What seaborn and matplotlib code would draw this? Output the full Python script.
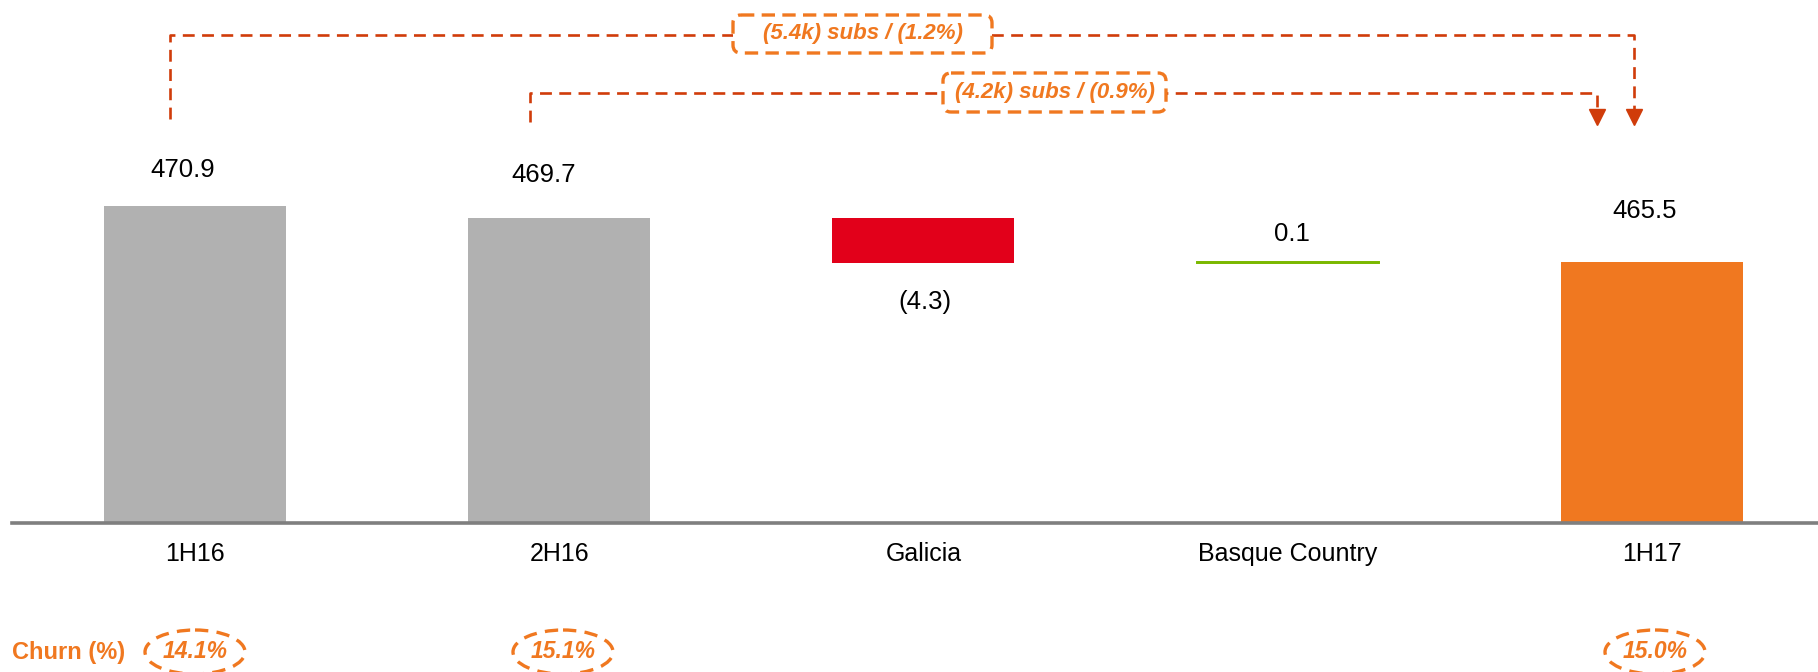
import pandas as pd
import seaborn as sns
import matplotlib.pyplot as plt
from matplotlib.patches import FancyBboxPatch, Ellipse
from matplotlib.lines import Line2D
from matplotlib.transforms import Affine2D

# data
categories = ["1H16", "2H16", "Galicia", "Basque Country", "1H17"]
values = [470.9, 469.7, -4.3, 0.1, 465.5]
kinds = ["total", "total", "delta", "delta", "total"]
value_labels = ["470.9", "469.7", "(4.3)", "0.1", "465.5"]
churn_labels = ["14.1%", "15.1%", "", "", "15.0%"]
bridge_labels = ["(5.4k) subs / (1.2%)", "(4.2k) subs / (0.9%)"]

GRAY = "#B1B1B1"
RED = "#E2001A"
GREEN = "#7AB800"
ORANGE = "#F07820"
BRACKET = "#D03C0A"

# waterfall bottoms / heights
bottoms, heights, colors = [], [], []
running = 0
for v, k in zip(values, kinds):
    if k == "total":
        bottoms.append(0)
        heights.append(v)
        running = v
        colors.append(GRAY)
    else:
        bottoms.append(running + min(v, 0))
        heights.append(abs(v))
        running += v
        colors.append(RED if v < 0 else GREEN)
colors[-1] = ORANGE

df = pd.DataFrame({"category": categories, "height": heights, "bottom": bottoms})

sns.set_style("white")
plt.rcParams["font.family"] = ["Liberation Sans", "DejaVu Sans"]

W, H = 1818, 672
fig = plt.figure(figsize=(W / 100, H / 100), dpi=100)
ax = fig.add_axes([12 / W, 149 / H, 1806 / W, 523 / H])

sns.barplot(data=df, x="category", y="height", bottom=df["bottom"].values,
            color=GRAY, saturation=1, width=0.5, errorbar=None, ax=ax)

for p, c, k in zip(ax.patches, colors, kinds):
    p.set_facecolor(c)
    p.set_edgecolor(c if (k == "delta" and c == GREEN) else "none")
    p.set_linewidth(1.4)

ax.set_xlim(-0.502, 4.456)
ax.set_ylim(440.33, 490.76)
ax.set_xlabel("")
ax.set_ylabel("")
ax.set_yticks([])
sns.despine(ax=ax, left=True, top=True, right=True)
ax.spines["bottom"].set_color("#7F7F7F")
ax.spines["bottom"].set_linewidth(2.6)
ax.tick_params(axis="x", length=0, pad=14, labelsize=18, labelcolor="black")

# value labels (offsets in pixels: dx, dy above top / below bottom)
pt = 72 / 100
offsets = [(-12, 36), (-15, 43), (2, -39), (4, 28), (-7, 51)]
for i, (lab, (dx, dy)) in enumerate(zip(value_labels, offsets)):
    top = bottoms[i] + heights[i]
    anchor = top if dy > 0 else bottoms[i]
    ax.annotate(lab, (i, anchor), xytext=(dx * pt, dy * pt), textcoords="offset points",
                ha="center", va="center", fontsize=18.5, color="black")

# pixel transform (origin top-left)
T = Affine2D().scale(1, -1).translate(0, H)
dash = (0, (4.5, 2.8))

def bracket(x0, x1, y_start, y_line, y_end):
    fig.add_artist(Line2D([x0, x0, x1, x1], [y_start, y_line, y_line, y_end],
                          transform=T, color=BRACKET, lw=1.9, linestyle=dash, zorder=5))
    fig.add_artist(Line2D([x1], [y_end + 6], transform=T, marker="v", markersize=11,
                          color=BRACKET, linestyle="none", zorder=5))

bracket(170, 1634, 119, 35, 111)
bracket(530, 1597, 122, 93, 111)

boxes = [(733, 15, 259, 38), (943, 73, 223, 39)]
for (bx, by, bw, bh), lab in zip(boxes, bridge_labels):
    fig.add_artist(FancyBboxPatch((bx, by), bw, bh, boxstyle="round,pad=0,rounding_size=8",
                                  transform=T, facecolor="white", edgecolor=ORANGE, lw=2.4,
                                  linestyle=(0, (4, 2.2)), zorder=6))
    fig.text(bx + bw / 2, by + bh / 2, lab, transform=T, ha="center", va="center",
             fontsize=16, fontweight="bold", fontstyle="italic", color=ORANGE, zorder=7)

# churn row
fig.text(12, 652, "Churn (%)", transform=T, ha="left", va="center",
         fontsize=17, fontweight="bold", color=ORANGE)
churn_x = [195, 563, None, None, 1655]
for cx, lab in zip(churn_x, churn_labels):
    if not lab:
        continue
    fig.add_artist(Ellipse((cx, 652), 100, 44, transform=T, fill=False, edgecolor=ORANGE,
                           lw=2.4, linestyle=(0, (4, 2.5))))
    fig.text(cx, 652, lab, transform=T, ha="center", va="center", fontsize=16.5,
             fontweight="bold", fontstyle="italic", color=ORANGE)

fig.savefig("out.png", dpi=100)
